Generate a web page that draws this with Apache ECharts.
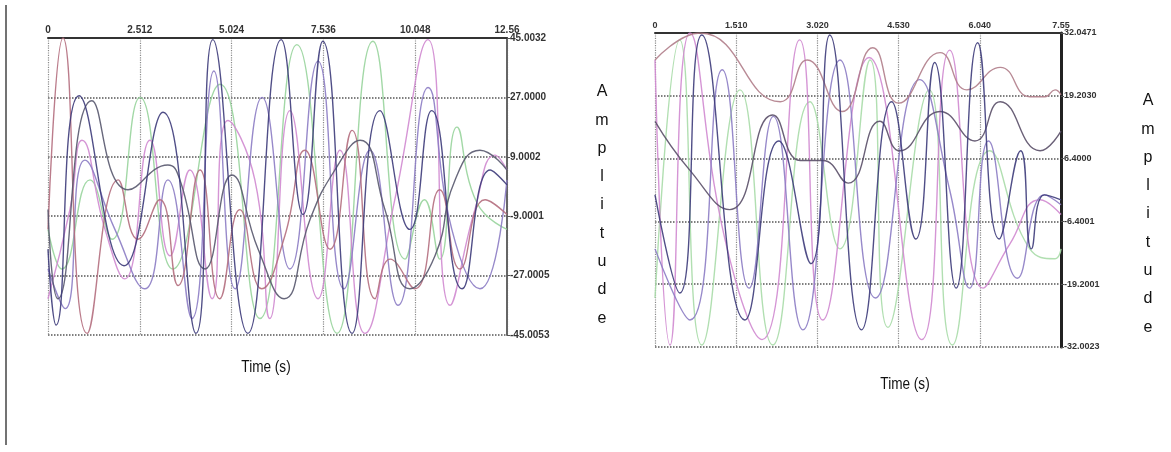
<!DOCTYPE html>
<html>
<head>
<meta charset="utf-8">
<title>Amplitude</title>
<script src="https://cdn.jsdelivr.net/npm/echarts/dist/echarts.min.js"></script>
<style>
	html, body { margin: 0; padding: 0; background: #fff; }
	#chart { width: 1171px; height: 452px; }
</style>
</head>
<body>
<div id="chart"></div>
<script>
// tick labels
var leftTimeTicks = ['0', '2.512', '5.024', '7.536', '10.048', '12.56'];
var leftAmpTicks = ['-45.0053', '-27.0005', '-9.0001', '9.0002', '27.0000', '45.0032'];
var rightTimeTicks = ['0', '1.510', '3.020', '4.530', '6.040', '7.55'];
var rightAmpTicks = ['-32.0023', '-19.2001', '-6.4001', '6.4000', '19.2030', '32.0471'];

// left panel, [time, amplitude]
var leftNavy = [[0, -19], [0.22, -42], [0.85, 27.5], [2.08, -24], [3.15, 22.5], [4.05, -44.5], [4.51, 44.5], [5.47, -44.5], [6.38, 44.5], [6.98, -8.5], [7.52, 44], [8.32, -44.5], [9.08, 23], [9.9, -13], [10.5, 23], [11.33, -31], [12.1, 5], [12.56, 0.5]];
var leftRose = [[0, -13], [0.41, 45], [1.07, -44.5], [1.92, 2], [2.46, -16], [3.06, -4], [3.56, -30], [4.16, 5], [4.7, -34], [5.25, -7], [5.85, -31], [6.48, -15], [7.03, 11], [7.72, -19], [8.32, 17], [8.95, -34], [9.36, -22], [10.04, -31], [10.72, -1], [11.27, -25], [11.96, -4], [12.56, -8.5]];
var leftPink = [[0, -34], [0.6, -7], [0.93, 14], [1.56, -13], [2.1, -28], [2.79, 14], [3.34, -21], [3.88, 5], [4.49, -34], [4.92, 20], [5.66, 2], [6.07, -40], [6.62, 23], [7.39, -34], [7.99, 11], [8.67, -44.5], [9.49, -4], [10.4, 44.5], [11.0, -36], [11.68, -7], [12.23, 9.5], [12.56, 5]];
var leftGreen = [[0, -13], [0.38, -25], [1.15, 2], [1.75, -16], [2.52, 27], [3.42, -25], [4.71, 31], [5.8, -40], [6.81, 43], [7.91, -44.5], [8.89, 44], [9.77, -22], [10.3, -4], [10.72, -22], [11.19, 18], [11.74, -5], [12.56, -13]];
var leftSlate = [[0, -7], [0.27, -34], [1.2, 26], [2.19, -1], [3.28, 6.5], [3.61, 2], [4.3, -25], [5.03, 3.5], [5.75, -19], [6.46, -34], [7.17, -10], [7.85, 5], [8.54, 14], [9.22, -7], [9.9, -31], [10.59, -21], [11.14, 2], [11.82, 11], [12.56, 5]];
var leftViolet = [[0, -25], [0.47, -37], [1.01, 8], [1.83, -13], [2.65, -31], [3.28, 2], [3.94, -40], [4.54, 35], [5.12, -31], [5.86, 27], [6.62, -25], [7.39, 38], [8.1, -31], [8.81, 11], [9.58, -36], [10.4, 30], [11.05, -13], [11.82, -31], [12.56, 2]];

// right panel
var rightRose = [[0, 26.5], [0.84, 32], [2.33, 18], [2.83, 26.5], [3.48, 16], [4.05, 29], [4.53, 17.7], [5.3, 28], [5.8, 20.4], [6.42, 25], [6.97, 19], [7.25, 19], [7.44, 20.4], [7.55, 19.4]];
var rightSlate = [[0, 14], [0.65, 4], [1.39, -4], [2.19, 15.3], [2.7, 6], [3.12, 6], [3.59, 1.4], [4.18, 14], [4.55, 8], [5.3, 16], [5.95, 10], [6.42, 18], [7.16, 8], [7.55, 12]];
var rightNavy = [[0, -1], [0.46, -21], [0.87, 31.6], [1.67, -26.5], [2.3, 10], [2.9, -15], [3.25, 31.6], [3.84, -28.5], [4.4, 18], [4.85, -10], [5.2, 26], [5.6, -20], [6.0, 30], [6.4, -10], [6.8, 8], [7.0, -12], [7.24, -1], [7.55, -2]];
var rightPink = [[0, 26.5], [0.28, -31.6], [0.65, 32], [1.3, -10], [1.99, -30.5], [2.69, 30.6], [3.12, -26.5], [3.98, 27], [4.96, -30.5], [5.48, 28.5], [6.1, -20], [6.6, -11], [7.16, -2], [7.55, -5]];
var rightGreen = [[0, -22], [0.46, 30.6], [0.87, -31.6], [1.58, 20.4], [2.19, -31.6], [2.88, 18], [3.44, -12], [4.0, 26.5], [4.33, -28], [5.1, 20.4], [5.53, -31.6], [6.22, 8], [6.97, -12], [7.44, -14], [7.55, -12]];
var rightViolet = [[0, -12], [0.65, -26.5], [1.25, 24.5], [1.75, -20], [2.2, 15], [2.75, -28.5], [3.44, 26.5], [4.1, -22], [4.92, 22.5], [5.48, 0], [5.85, -20], [6.2, 10], [6.74, -18], [7.24, -1], [7.55, -3]];

var chart = echarts.init(document.getElementById('chart'));

function tickText(list, min, step) {
	return function(v) {
		return list[Math.round((v - min) / step)] || '';
	};
}

function xAxisFor(grid, max, step, labels, size) {
	return {
		type: 'value',
		gridIndex: grid,
		position: 'top',
		min: 0,
		max: max,
		interval: step,
		axisLine: { show: true, onZero: false, lineStyle: { color: '#333', width: 2 } },
		axisTick: { show: false },
		axisLabel: {
			margin: 3,
			fontSize: size,
			fontWeight: 'bold',
			color: '#333',
			fontFamily: 'Liberation Sans',
			formatter: tickText(labels, 0, step)
		},
		splitLine: { show: true, lineStyle: { color: '#8a8a8a', type: 'dotted', width: 1.2 } }
	};
}

function yAxisFor(grid, min, max, step, labels, size, axisColor, axisWidth) {
	return {
		type: 'value',
		gridIndex: grid,
		position: 'right',
		min: min,
		max: max,
		interval: step,
		axisLine: { show: true, onZero: false, lineStyle: { color: axisColor, width: axisWidth } },
		axisTick: { show: true, length: 3, lineStyle: { color: '#555' } },
		axisLabel: {
			margin: 3,
			fontSize: size,
			fontWeight: 'bold',
			color: '#333',
			fontFamily: 'Liberation Sans',
			formatter: tickText(labels, min, step)
		},
		splitLine: { show: true, lineStyle: { color: '#555', type: 'dotted', width: 1.5 } }
	};
}

function wave(i, color, data) {
	return {
		type: 'line',
		xAxisIndex: i,
		yAxisIndex: i,
		data: data,
		smooth: 0.5,
		showSymbol: false,
		lineStyle: { color: color, width: 1.4, opacity: 0.9 }
	};
}

var option = {
	animation: false,
	backgroundColor: '#fff',
	grid: [
		{ left: 48, top: 38, width: 459, height: 297 },
		{ left: 655, top: 33, width: 406, height: 314 }
	],
	xAxis: [
		xAxisFor(0, 12.56, 2.512, leftTimeTicks, 10),
		xAxisFor(1, 7.55, 1.51, rightTimeTicks, 9)
	],
	yAxis: [
		yAxisFor(0, -45, 45, 18, leftAmpTicks, 10, '#666', 2),
		yAxisFor(1, -32, 32, 12.8, rightAmpTicks, 9, '#222', 3)
	],
	series: [
		wave(0, '#98d49c', leftGreen),
		wave(0, '#d08ad0', leftPink),
		wave(0, '#8c7cc4', leftViolet),
		wave(0, '#b46e7e', leftRose),
		wave(0, '#58586e', leftSlate),
		wave(0, '#3d3b7a', leftNavy),
		wave(1, '#a8dca8', rightGreen),
		wave(1, '#d08ad0', rightPink),
		wave(1, '#8c7cc4', rightViolet),
		wave(1, '#b07d8a', rightRose),
		wave(1, '#5a4f68', rightSlate),
		wave(1, '#3d3b7a', rightNavy)
	],
	graphic: [
		{ type: 'line', shape: { x1: 6, y1: 5, x2: 6, y2: 445 }, style: { stroke: '#444', lineWidth: 1.5 } },
		{ type: 'text', x: 266, y: 368, scaleX: 0.85, style: { text: 'Time (s)', fill: '#111', font: '16px "Liberation Sans", sans-serif', textAlign: 'center', textVerticalAlign: 'middle' } },
		{ type: 'text', x: 905, y: 385, scaleX: 0.85, style: { text: 'Time (s)', fill: '#111', font: '16px "Liberation Sans", sans-serif', textAlign: 'center', textVerticalAlign: 'middle' } },
		{ type: 'text', x: 602, y: 205, style: { text: 'A\nm\np\nl\ni\nt\nu\nd\ne', fill: '#111', font: '16px "Liberation Sans", sans-serif', lineHeight: 28.3, textAlign: 'center', textVerticalAlign: 'middle' } },
		{ type: 'text', x: 1148, y: 214, style: { text: 'A\nm\np\nl\ni\nt\nu\nd\ne', fill: '#111', font: '16px "Liberation Sans", sans-serif', lineHeight: 28.3, textAlign: 'center', textVerticalAlign: 'middle' } }
	]
};

chart.setOption(option);
</script>
</body>
</html>
